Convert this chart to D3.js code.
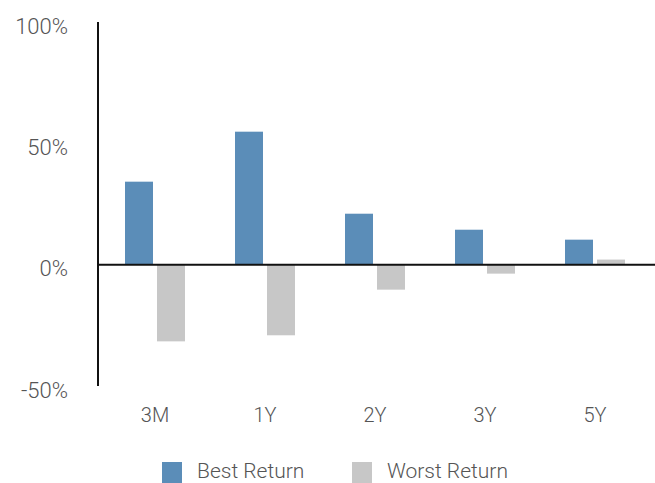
<!DOCTYPE html>
<html>
<head>
<meta charset="utf-8">
<script src="https://cdn.jsdelivr.net/npm/d3@7"></script>
<style>
  html, body { margin: 0; padding: 0; background: #fff; }
  svg text { font-family: Roboto, "Liberation Sans", sans-serif; font-weight: 300; fill: #555; }
</style>
</head>
<body>
<svg id="chart" width="655" height="483"></svg>
<script>
// Return ranges by holding period (percent)
const categories = ["3M", "1Y", "2Y", "3Y", "5Y"];
const seriesNames = ["Best Return", "Worst Return"];
const bestReturn = [34.2, 54.8, 21.0, 14.4, 10.3];
const worstReturn = [-31.6, -29.1, -10.3, -3.7, 2.1];
const yTicks = [100, 50, 0, -50];
const seriesColors = ["#5b8db8", "#c7c7c7"];

const svg = d3.select("#chart");
const margin = { left: 98, top: 22, bottom: 386, right: 650 };

const y = d3.scaleLinear().domain([-50, 100]).range([margin.bottom, margin.top]);
const x0 = d3.scaleBand().domain(categories).range([100, margin.right])
  .paddingInner(50 / 110).paddingOuter(25 / 110);
const x1 = d3.scaleBand().domain(seriesNames).range([0, x0.bandwidth()]).paddingInner(0.125);
const color = d3.scaleOrdinal().domain(seriesNames).range(seriesColors);

const rows = categories.map((c, i) => ({ cat: c, values: [
  { key: seriesNames[0], v: bestReturn[i] },
  { key: seriesNames[1], v: worstReturn[i] }
]}));

// Bars
const groups = svg.append("g").selectAll("g").data(rows).join("g")
  .attr("transform", d => `translate(${x0(d.cat)},0)`);
groups.selectAll("rect").data(d => d.values).join("rect")
  .attr("x", d => x1(d.key))
  .attr("width", x1.bandwidth())
  .attr("y", d => y(Math.max(0, d.v)))
  .attr("height", d => Math.abs(y(d.v) - y(0)))
  .attr("fill", d => color(d.key));

// Y axis
const yAxis = svg.append("g").attr("transform", `translate(${margin.left},0)`)
  .call(d3.axisLeft(y).tickValues(yTicks).tickSize(0).tickPadding(30)
    .tickFormat(d => d + "%"));
yAxis.select(".domain").attr("stroke", "#111").attr("stroke-width", 2)
  .attr("d", `M0,${margin.top}V${margin.bottom}`);
yAxis.selectAll("text").attr("font-size", 22).attr("dy", "0.5em");
yAxis.attr("font-family", null).attr("font-size", null);

// Zero line
svg.append("line")
  .attr("x1", margin.left).attr("x2", 655)
  .attr("y1", y(0)).attr("y2", y(0))
  .attr("stroke", "#111").attr("stroke-width", 2);

// Category labels
const xAxis = svg.append("g").attr("transform", `translate(0,${margin.bottom})`)
  .call(d3.axisBottom(x0).tickSize(0).tickPadding(22));
xAxis.select(".domain").remove();
xAxis.selectAll("text").attr("font-size", 20);
xAxis.attr("font-family", null).attr("font-size", null);

// Legend
const legend = svg.append("g").selectAll("g").data(seriesNames).join("g")
  .attr("transform", (d, i) => `translate(${[162, 352][i]},462)`);
legend.append("rect").attr("width", 20).attr("height", 21).attr("fill", d => color(d));
legend.append("text").attr("x", 35).attr("y", 16).attr("font-size", 21).text(d => d);
</script>
</body>
</html>
